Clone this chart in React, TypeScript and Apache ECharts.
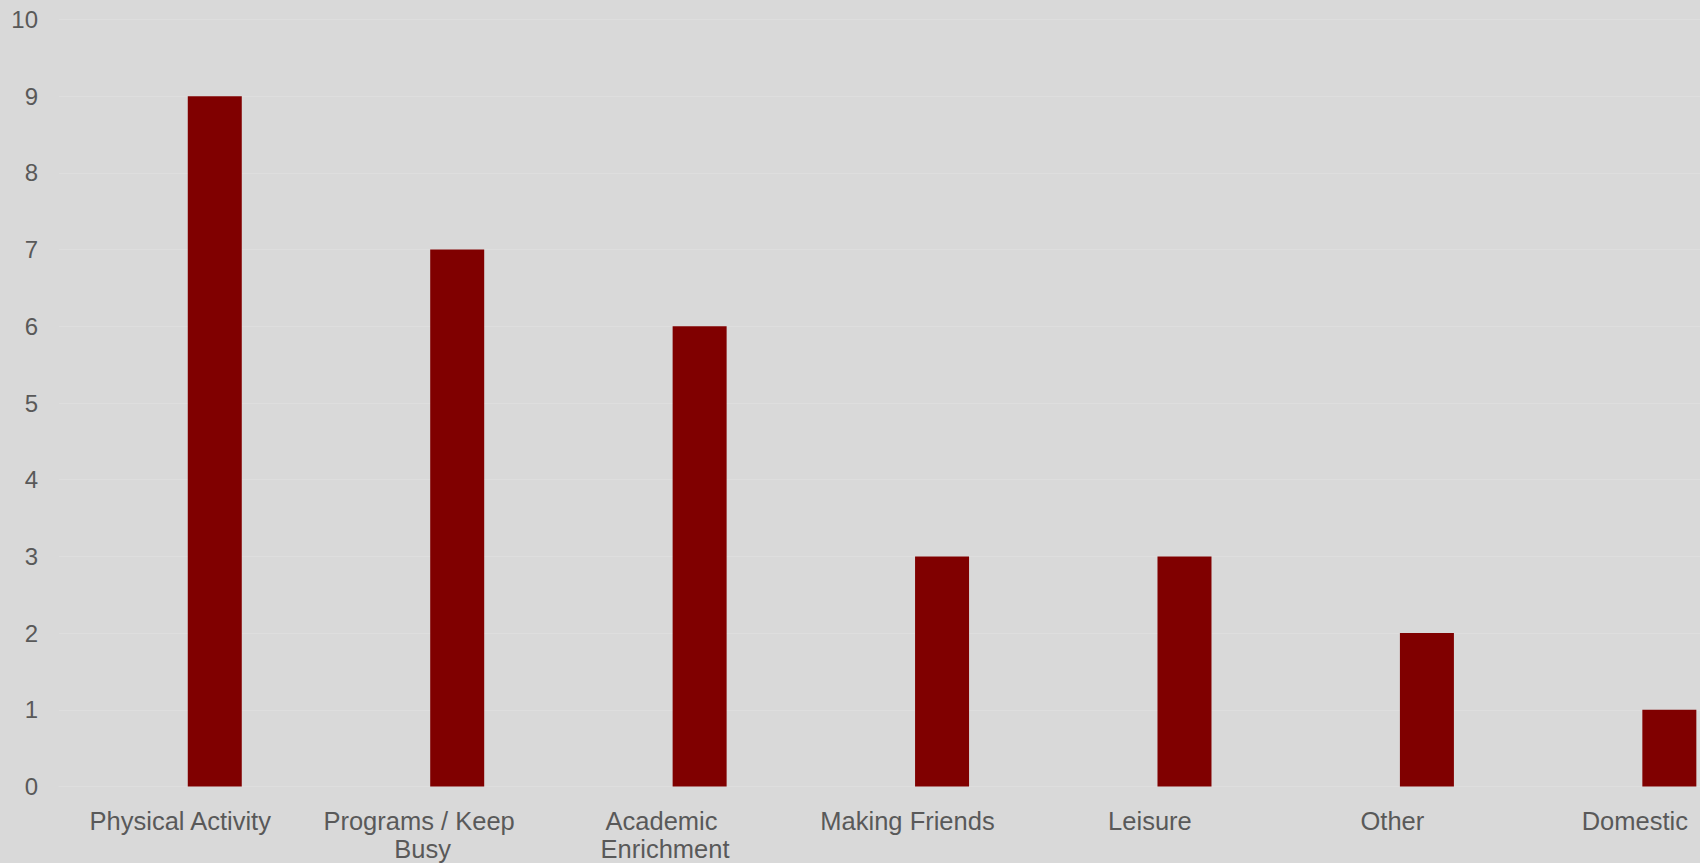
import React, { useEffect, useRef } from "react";
import * as echarts from "echarts";

const categories = [
  "Physical Activity",
  "Programs / Keep Busy",
  "Academic Enrichment",
  "Making Friends",
  "Leisure",
  "Other",
  "Domestic",
];
const counts = [9, 7, 6, 3, 3, 2, 1];
const emptySeries = [null, null, null, null, null, null, null];
const yTicks = { min: 0, max: 10, interval: 1 };

export default function App() {
  const ref = useRef<HTMLDivElement>(null);
  useEffect(() => {
    document.body.style.margin = "0";
    document.body.style.background = "#d9d9d9";
    const chart = echarts.init(ref.current!, null, { renderer: "svg" });
    chart.setOption({
      animation: false,
      backgroundColor: "#d9d9d9",
      grid: { left: 59, right: 0, top: 19.5, bottom: 76.5, containLabel: false },
      xAxis: {
        type: "category",
        data: categories,
        axisLine: { show: true, lineStyle: { color: "#dedede", width: 1 } },
        axisTick: { show: false },
        axisLabel: {
          interval: 0,
          color: "#595959",
          fontFamily: "Liberation Sans, Arial, sans-serif",
          fontSize: 25.5,
          lineHeight: 28,
          margin: 20,
          width: 225,
          overflow: "break",
        },
      },
      yAxis: {
        type: "value",
        min: yTicks.min,
        max: yTicks.max,
        interval: yTicks.interval,
        axisLine: { show: false },
        axisTick: { show: false },
        splitLine: { show: true, lineStyle: { color: "#dedede", width: 1 } },
        axisLabel: {
          color: "#595959",
          fontFamily: "Liberation Sans, Arial, sans-serif",
          fontSize: 24,
          margin: 21,
        },
      },
      series: [
        {
          type: "bar",
          data: emptySeries,
          barWidth: 54,
          barGap: "28%",
          itemStyle: { color: "#7f7f7f" },
        },
        {
          type: "bar",
          data: counts,
          barWidth: 54,
          barGap: "28%",
          itemStyle: { color: "#800000" },
        },
      ],
    });
    return () => chart.dispose();
  }, []);
  return (
    <div style={{ width: 1700, height: 863, overflow: "hidden", background: "#d9d9d9" }}>
      <div ref={ref} style={{ width: 1756, height: 863 }} />
    </div>
  );
}
